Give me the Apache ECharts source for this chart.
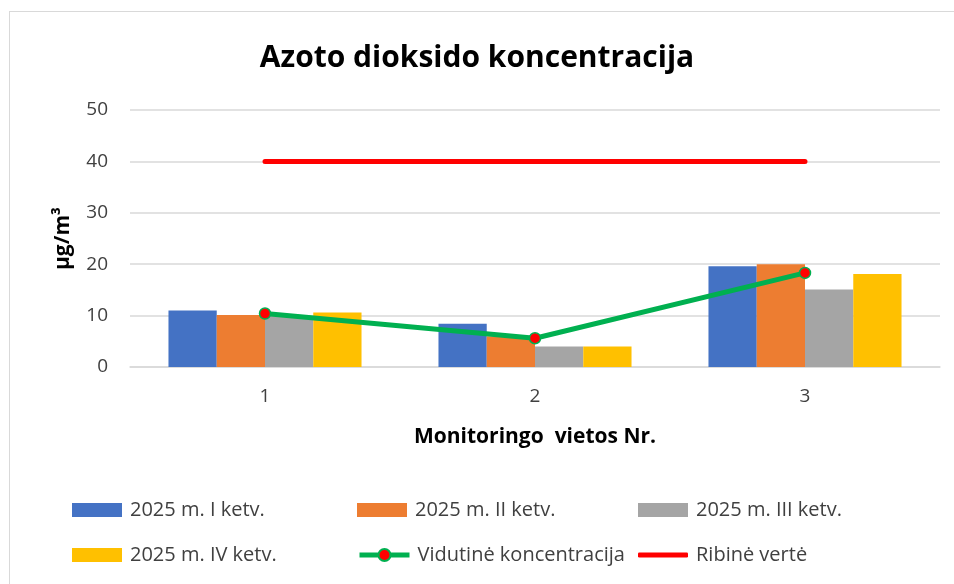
<!DOCTYPE html>
<html>
<head>
<meta charset="utf-8">
<script src="https://cdn.jsdelivr.net/npm/echarts@6/dist/echarts.min.js"></script>
<style>
  html, body { margin: 0; padding: 0; background: #fff; }
  #frame { position: absolute; left: 9px; top: 11px; width: 960px; height: 600px; border: 1px solid #d9d9d9; }
  #chart { position: absolute; left: 0; top: 0; width: 954px; height: 584px; }
</style>
</head>
<body>
<div id="frame"></div>
<div id="chart"></div>
<script>
// Azoto dioksido koncentracija pagal monitoringo vietas
const sites = ['1', '2', '3'];
const q1 = [11.0, 8.4, 19.6];
const q2 = [10.1, 6.0, 20.0];
const q3 = [9.9, 4.0, 15.1];
const q4 = [10.6, 4.0, 18.1];
const average = [10.4, 5.6, 18.3];
const limit = [40, 40, 40];
const yTicks = [0, 10, 20, 30, 40, 50];

const FONT = '"Open Sans", "Noto Sans", sans-serif';

const chart = echarts.init(document.getElementById('chart'));

const barNames = ['2025 m. I ketv.', '2025 m. II ketv.', '2025 m. III ketv.', '2025 m. IV ketv.'];
const barColors = ['#4472C4', '#ED7D31', '#A5A5A5', '#FFC000'];
const barData = [q1, q2, q3, q4];

const legendText = { fontSize: 20, color: '#404040', fontFamily: FONT, padding: [0, 0, 0, 3] };
function legendAt(item, left, top, extra) {
  return Object.assign({
    data: [item], left: left, top: top,
    itemWidth: 50, itemHeight: 14, itemGap: 0, icon: 'rect',
    textStyle: legendText, selectedMode: false
  }, extra || {});
}

const option = {
  animation: false,
  title: {
    text: 'Azoto dioksido koncentracija',
    left: 'center',
    top: 38,
    textStyle: { fontSize: 30, fontWeight: 'bold', color: '#000', fontFamily: FONT }
  },
  legend: [
    legendAt(barNames[0], 67, 495),
    legendAt(barNames[1], 352, 495),
    legendAt(barNames[2], 633, 495),
    legendAt(barNames[3], 67, 540),
    legendAt('Vidutinė koncentracija', 352, 540, { icon: null, itemHeight: 15, lineStyle: { width: 5 } }),
    legendAt({ name: 'Ribinė vertė', icon: 'roundRect', itemStyle: { color: '#FF0000' } }, 633, 540, { itemHeight: 5 })
  ],
  grid: { left: 130, right: 14, top: 110, bottom: 217 },
  xAxis: {
    type: 'category',
    data: sites,
    name: 'Monitoringo  vietos Nr.',
    nameLocation: 'middle',
    nameGap: 60,
    nameTextStyle: { fontSize: 21, fontWeight: 'bold', color: '#000', fontFamily: FONT },
    axisLine: { lineStyle: { color: '#d9d9d9', width: 1.5 } },
    axisTick: { show: false },
    axisLabel: { fontSize: 19, color: '#404040', margin: 20, fontFamily: FONT }
  },
  yAxis: {
    type: 'value',
    min: 0,
    max: 50,
    interval: 10,
    name: 'µg/m³',
    nameLocation: 'middle',
    nameGap: 56,
    nameTextStyle: { fontSize: 21, fontWeight: 'bold', color: '#000', fontFamily: FONT },
    axisLine: { show: false },
    axisTick: { show: false },
    splitLine: { lineStyle: { color: '#d9d9d9', width: 1.5 } },
    axisLabel: {
      fontSize: 19, color: '#404040', margin: 22, fontFamily: FONT,
      formatter: v => (yTicks.indexOf(v) >= 0 ? String(v) : '')
    }
  },
  series: barNames.map((name, i) => ({
    name: name,
    type: 'bar',
    data: barData[i],
    barGap: '0%',
    barCategoryGap: '28.5%',
    itemStyle: { color: barColors[i] }
  })).concat([
    {
      name: 'Vidutinė koncentracija',
      type: 'line',
      data: average,
      symbol: 'circle',
      symbolSize: 11,
      itemStyle: { color: '#FF0000', borderColor: '#00B050', borderWidth: 1.5 },
      lineStyle: { color: '#00B050', width: 5 },
      z: 5
    },
    {
      name: 'Ribinė vertė',
      type: 'line',
      data: limit,
      symbol: 'none',
      itemStyle: { color: '#FF0000' },
      lineStyle: { color: '#FF0000', width: 5, cap: 'round' },
      z: 4
    }
  ])
};

chart.setOption(option);
window.addEventListener('resize', () => chart.resize());
</script>
</body>
</html>
